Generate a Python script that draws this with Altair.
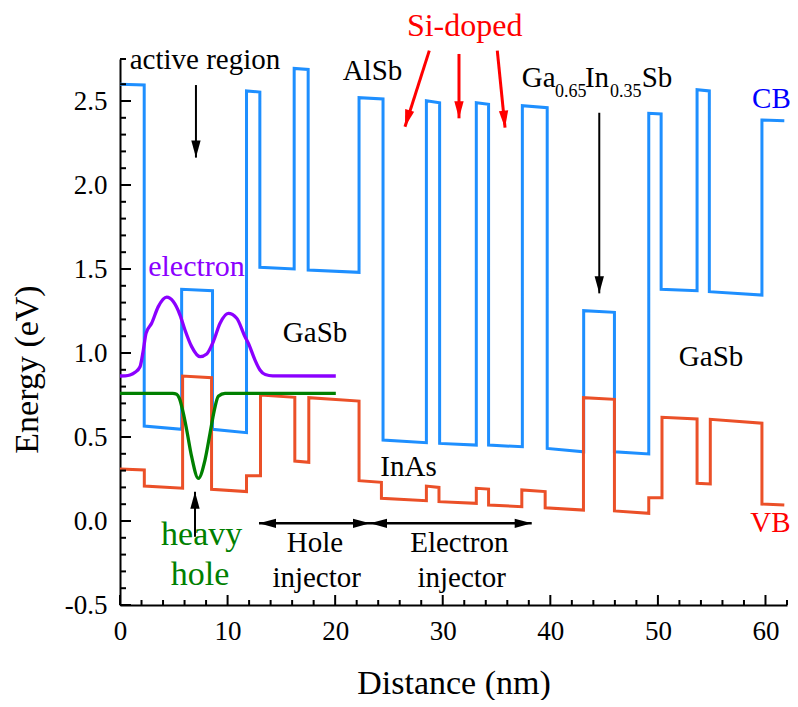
import altair as alt
import pandas as pd

# ---------------- data ----------------
# Conduction band (corner points of the step profile)
cb_x = [0, 2.25, 2.25, 5.73, 5.73, 8.6, 8.6, 11.76, 11.76, 13.0, 13.0, 16.19, 16.19, 17.49,
        17.49, 22.22, 22.22, 24.45, 24.45, 28.48, 28.48, 29.71, 29.71, 33.12, 33.12, 34.26,
        34.26, 37.4, 37.4, 39.71, 39.71, 43.1, 43.1, 45.96, 45.96, 49.15, 49.15, 50.3,
        50.3, 53.64, 53.64, 54.78, 54.78, 59.67, 59.67, 61.75]
cb_y = [2.60, 2.595, 0.565, 0.546, 1.379, 1.371, 0.546, 0.526, 2.56, 2.553, 1.51, 1.50, 2.694, 2.688,
        1.494, 1.48, 2.52, 2.512, 0.482, 0.466, 2.502, 2.49, 0.462, 0.452, 2.49, 2.48,
        0.452, 0.442, 2.472, 2.46, 0.432, 0.412, 1.252, 1.242, 0.412, 0.399, 2.427, 2.423,
        1.379, 1.371, 2.567, 2.56, 1.365, 1.345, 2.387, 2.383]

# Valence band
vb_x = [0, 2.26, 2.26, 5.82, 5.82, 8.51, 8.51, 11.76, 11.76, 13.06, 13.06, 16.25, 16.25, 17.55,
        17.55, 22.22, 22.22, 24.3, 24.3, 28.48, 28.48, 29.65, 29.65, 33.12, 33.12, 34.26,
        34.26, 37.35, 37.35, 39.52, 39.52, 43.08, 43.08, 45.96, 45.96, 49.15, 49.15, 50.38,
        50.38, 53.64, 53.64, 54.87, 54.87, 59.67, 59.67, 61.75]
vb_y = [0.31, 0.304, 0.208, 0.195, 0.863, 0.853, 0.189, 0.175, 0.27, 0.27, 0.75, 0.736, 0.357, 0.349,
        0.734, 0.714, 0.24, 0.23, 0.135, 0.121, 0.208, 0.20, 0.115, 0.105, 0.195, 0.19,
        0.095, 0.085, 0.185, 0.175, 0.079, 0.065, 0.734, 0.724, 0.06, 0.046, 0.139, 0.139,
        0.617, 0.607, 0.224, 0.22, 0.605, 0.582, 0.101, 0.095]

# Electron wavefunction
el_x = [0, 0.5, 0.93, 1.4, 1.86, 2.17, 2.42, 2.94, 3.56, 4.34, 4.95, 5.58, 6.04, 6.66, 7.44,
        8.06, 8.67, 9.30, 10.07, 10.85, 11.62, 11.93, 12.55, 13.01, 13.5, 14.2, 20.06]
el_y = [0.863, 0.864, 0.869, 0.885, 0.918, 1.018, 1.117, 1.177, 1.276, 1.332, 1.306, 1.226, 1.137,
        1.038, 0.978, 0.994, 1.067, 1.177, 1.236, 1.207, 1.097, 1.058, 0.958, 0.899, 0.872,
        0.864, 0.863]

# Heavy hole wavefunction
hh_x = [0, 4.9, 5.27, 5.52, 5.89, 6.2, 6.66, 7.28, 7.9, 8.37, 8.74, 9.14, 9.76, 20.06]
hh_y = [0.76, 0.76, 0.755, 0.730, 0.64, 0.542, 0.383, 0.254, 0.363, 0.522, 0.651, 0.742, 0.76, 0.76]

# Axis tick positions
x_major = [0, 10, 20, 30, 40, 50, 60]
x_minor = [2, 4, 6, 8, 12, 14, 16, 18, 22, 24, 26, 28, 32, 34, 36, 38, 42, 44, 46, 48,
           52, 54, 56, 58, 62]
y_major = [-0.5, 0.0, 0.5, 1.0, 1.5, 2.0, 2.5]
y_minor = [-0.4, -0.3, -0.2, -0.1, 0.1, 0.2, 0.3, 0.4, 0.6, 0.7, 0.8, 0.9, 1.1, 1.2, 1.3, 1.4,
           1.6, 1.7, 1.8, 1.9, 2.1, 2.2, 2.3, 2.4, 2.6, 2.75]

# Annotations (data coordinates)
lab_text = ["active region", "AlSb", "Si-doped", "CB", "electron", "GaSb", "GaSb", "InAs", "VB",
            "heavy", "hole", "Hole", "injector", "Electron", "injector"]
lab_x = [7.90, 23.47, 32.04, 60.55, 7.11, 18.13, 54.94, 26.82, 60.45,
         7.59, 7.44, 18.13, 18.28, 31.54, 31.76]
lab_y = [2.690, 2.625, 2.887, 2.457, 1.458, 1.067, 0.923, 0.270, -0.064,
         -0.143, -0.381, -0.183, -0.391, -0.183, -0.391]
lab_size = [29, 29, 32, 29, 30, 29, 29, 29, 29, 34, 34, 29, 29, 29, 29]
lab_color = ["black", "black", "#ff0000", "#0000ff", "#8b00ff", "black", "black", "black", "#ff0000",
             "#008000", "#008000", "black", "black", "black", "black"]

ga_text = ["Ga", "0.65", "In", "0.35", "Sb"]
ga_x = [37.34, 40.43, 43.22, 45.55, 48.49]
ga_y = [2.582, 2.526, 2.582, 2.526, 2.582]
ga_size = [29, 18, 29, 18, 29]

# Arrows: start -> tip
arr_x1 = [7.06, 44.55, 6.97, 28.75, 31.51, 35.07, 12.92, 23.24]
arr_y1 = [2.595, 2.430, -0.094, 2.800, 2.780, 2.800, -0.014, -0.014]
arr_x2 = [7.06, 44.55, 6.97, 26.49, 31.51, 35.79, 23.24, 38.27]
arr_y2 = [2.163, 1.355, 0.174, 2.347, 2.397, 2.341, -0.014, -0.014]
arr_color = ["black", "black", "black", "#ff0000", "#ff0000", "#ff0000", "black", "black"]
arr_w = [2, 2, 2, 3, 3, 3, 2.5, 2.5]

# Arrow heads (tip position, rotation of a down-pointing head)
head_x = [7.06, 44.55, 6.97, 26.49, 31.51, 35.79, 12.92, 23.24, 23.24, 38.27]
head_y = [2.163, 1.355, 0.174, 2.347, 2.397, 2.341, -0.014, -0.014, -0.014, -0.014]
head_ang = [0, 0, 180, 16, 0, 355, 90, 270, 90, 270]
head_color = ["black", "black", "black", "#ff0000", "#ff0000", "#ff0000",
              "black", "black", "black", "black"]

# ---------------- chart ----------------
FONT = "Liberation Serif"
xs = alt.Scale(domain=[0, 62], nice=False, zero=False)
ys = alt.Scale(domain=[-0.5, 2.75], nice=False, zero=False)

W, H = 667, 546


def line_df(xv, yv):
    return pd.DataFrame({"x": xv, "y": yv, "i": list(range(len(xv)))})


x_axis = alt.Axis(values=x_major, ticks=False, tickSize=0, labelPadding=13, labelFontSize=27,
                  labelFont=FONT, labelColor="black", domainColor="black", domainWidth=2,
                  grid=False, title="Distance (nm)", titleFont=FONT, titleFontSize=34,
                  titleFontWeight="normal", titleColor="black", titleY=88,
                  titleBaseline="alphabetic", labelFlush=False)
y_axis = alt.Axis(values=y_major, ticks=False, tickSize=0, labelPadding=13, labelFontSize=27,
                  labelFont=FONT, labelColor="black", domainColor="black", domainWidth=2,
                  grid=False, title="Energy (eV)", titleFont=FONT, titleFontSize=34,
                  titleFontWeight="normal", titleColor="black", titleAngle=270,
                  titleX=-83, titleY=310, titleAlign="center", titleBaseline="alphabetic",
                  labelFlush=False,
                  labelExpr="datum.value < 0 ? '-' + format(-datum.value, '.1f') : format(datum.value, '.1f')")

X = alt.X("x:Q", scale=xs)
Y = alt.Y("y:Q", scale=ys)

cb = alt.Chart(line_df(cb_x, cb_y)).mark_line(color="#1e8fff", strokeWidth=3).encode(
    x=alt.X("x:Q", scale=xs, axis=x_axis),
    y=alt.Y("y:Q", scale=ys, axis=y_axis),
    order="i:Q")

vb = alt.Chart(line_df(vb_x, vb_y)).mark_line(color="#eb5028", strokeWidth=3).encode(
    x=X, y=Y, order="i:Q")

el = alt.Chart(line_df(el_x, el_y)).mark_line(color="#8b00ff", strokeWidth=3.3,
                                               interpolate="monotone").encode(
    x=X, y=Y, order="i:Q")

hh = alt.Chart(line_df(hh_x, hh_y)).mark_line(color="#008000", strokeWidth=3.3,
                                               interpolate="monotone").encode(
    x=X, y=Y, order="i:Q")

labels = alt.Chart(pd.DataFrame({"t": lab_text, "x": lab_x, "y": lab_y, "s": lab_size,
                                 "c": lab_color})).mark_text(
    font=FONT, align="center", baseline="alphabetic").encode(
    x=X, y=Y, text="t:N", size=alt.Size("s:Q", scale=None), color=alt.Color("c:N", scale=None))

ga = alt.Chart(pd.DataFrame({"t": ga_text, "x": ga_x, "y": ga_y, "s": ga_size})).mark_text(
    font=FONT, align="left", baseline="alphabetic", color="black").encode(
    x=X, y=Y, text="t:N", size=alt.Size("s:Q", scale=None))

arrows = alt.Chart(pd.DataFrame({"x": arr_x1, "y": arr_y1, "x2": arr_x2, "y2": arr_y2,
                                 "c": arr_color, "w": arr_w})).mark_rule().encode(
    x=X, y=Y, x2="x2:Q", y2="y2:Q", color=alt.Color("c:N", scale=None),
    strokeWidth=alt.StrokeWidth("w:Q", scale=None))

heads = alt.Chart(pd.DataFrame({"x": head_x, "y": head_y, "a": head_ang,
                                "c": head_color})).mark_point(
    filled=True, opacity=1, size=289, shape="M0,0L-0.55,-2L0.55,-2Z", strokeWidth=0).encode(
    x=X, y=Y, angle=alt.Angle("a:Q", scale=None), color=alt.Color("c:N", scale=None))

xt_major = alt.Chart(pd.DataFrame({"x": x_major})).mark_rule(color="black", strokeWidth=2).encode(
    x=X, y=alt.value(H), y2=alt.value(H - 10))
xt_minor = alt.Chart(pd.DataFrame({"x": x_minor})).mark_rule(color="black", strokeWidth=2).encode(
    x=X, y=alt.value(H), y2=alt.value(H - 5))
yt_major = alt.Chart(pd.DataFrame({"y": y_major})).mark_rule(color="black", strokeWidth=2).encode(
    y=Y, x=alt.value(0), x2=alt.value(11))
yt_minor = alt.Chart(pd.DataFrame({"y": y_minor})).mark_rule(color="black", strokeWidth=2).encode(
    y=Y, x=alt.value(0), x2=alt.value(6))

chart = alt.layer(cb, vb, el, hh, labels, ga, arrows, heads,
                  xt_major, xt_minor, yt_major, yt_minor).properties(
    width=W, height=H,
    autosize=alt.AutoSizeParams(type="none"),
    padding={"left": 112, "top": 51, "right": 3, "bottom": 95},
    background="white",
).configure_view(stroke=None)

chart.save("out.html", embed_options={"renderer": "svg", "actions": False})
